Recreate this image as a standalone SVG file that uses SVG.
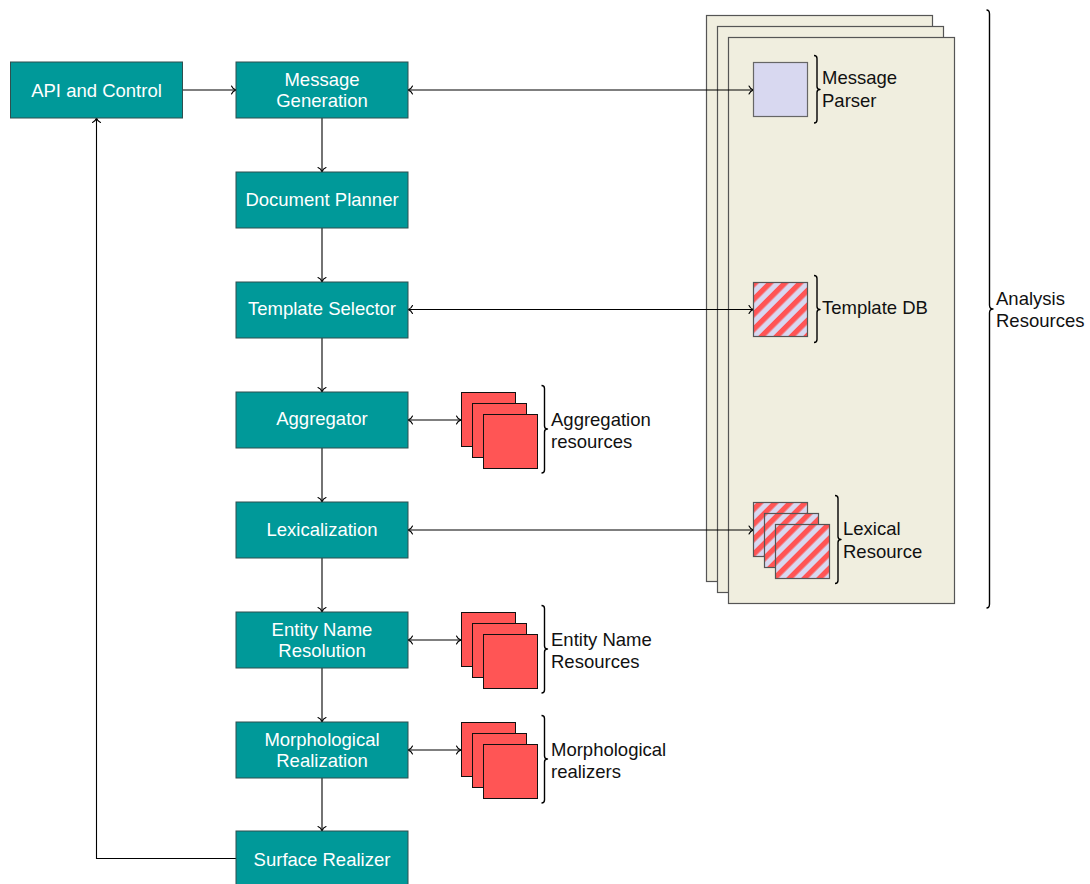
<svg xmlns="http://www.w3.org/2000/svg" width="1090" height="884" viewBox="0 0 1090 884">
  <style>
    text { font-family: "Liberation Sans", Arial, sans-serif; font-size: 18.5px; }
    .node rect { fill: #009999; stroke: #2f4f4f; stroke-width: 1; }
    .node text { fill: #ffffff; text-anchor: middle; }
    .label { fill: #111111; }
    .page { fill: #f0eedf; stroke: #555555; stroke-width: 1.2; }
    .plain { fill: #d8d8f0; stroke: #666666; stroke-width: 1.2; }
    .hatch { fill: url(#stripes); stroke: #555555; stroke-width: 1.2; }
    .res { fill: #ff5555; stroke: #111111; stroke-width: 1; }
    .brace { fill: none; stroke: #000000; stroke-width: 1.4; stroke-linejoin: round; }
    .edge { fill: none; stroke: #000000; stroke-width: 1.1; }
    .one { marker-end: url(#tip); }
    .two { marker-start: url(#tip); marker-end: url(#tip); }
  </style>
  <defs>
    <marker id="tip" viewBox="-6 -5 8 10" markerWidth="8" markerHeight="10" refX="0" refY="0" orient="auto-start-reverse" markerUnits="userSpaceOnUse">
      <path d="M-4.5,-4 C-3.5,-1.5 -1,-0.3 0,0 C-1,0.3 -3.5,1.5 -4.5,4" fill="none" stroke="#000" stroke-width="1.1" stroke-linecap="round"/>
    </marker>
    <pattern id="stripes" width="10.6" height="10.6" patternUnits="userSpaceOnUse" patternTransform="rotate(45)">
      <rect width="10.6" height="10.6" fill="#d8d8f0"/>
      <rect width="5.3" height="10.6" fill="#ff5555"/>
    </pattern>
  </defs>

  <!-- analysis resource pages -->
  <g id="analysis-pages">
    <rect class="page" x="706.5" y="15.5" width="226" height="566"/>
    <rect class="page" x="717.5" y="26.5" width="226" height="566"/>
    <rect class="page" x="728.5" y="37.5" width="226" height="566"/>
  </g>

  <!-- connectors -->
  <g id="connectors">
    <line class="edge one" x1="183" y1="90" x2="236" y2="90"/>
    <line class="edge two" x1="408" y1="90" x2="753.5" y2="90"/>
    <line class="edge two" x1="408" y1="309.5" x2="753.5" y2="309.5"/>
    <line class="edge two" x1="408" y1="420" x2="461" y2="420"/>
    <line class="edge two" x1="408" y1="530" x2="753.5" y2="530"/>
    <line class="edge two" x1="408" y1="640" x2="461" y2="640"/>
    <line class="edge two" x1="408" y1="750" x2="461" y2="750"/>
    <line class="edge one" x1="322" y1="118" x2="322" y2="172"/>
    <line class="edge one" x1="322" y1="228" x2="322" y2="282"/>
    <line class="edge one" x1="322" y1="338" x2="322" y2="392"/>
    <line class="edge one" x1="322" y1="448" x2="322" y2="502"/>
    <line class="edge one" x1="322" y1="558" x2="322" y2="612"/>
    <line class="edge one" x1="322" y1="668" x2="322" y2="722"/>
    <line class="edge one" x1="322" y1="778" x2="322" y2="831"/>
    <polyline class="edge one" points="236,858.5 96.5,858.5 96.5,118"/>
  </g>

  <!-- pipeline stages -->
  <g id="api-control" class="node">
    <rect x="10.5" y="62" width="172" height="56"/>
    <text x="96.5" y="97">API and Control</text>
  </g>
  <g id="message-generation" class="node">
    <rect x="236" y="62" width="172" height="56"/>
    <text x="322" y="86">Message</text>
    <text x="322" y="107">Generation</text>
  </g>
  <g id="document-planner" class="node">
    <rect x="236" y="172" width="172" height="56"/>
    <text x="322" y="205.5">Document Planner</text>
  </g>
  <g id="template-selector" class="node">
    <rect x="236" y="282" width="172" height="56"/>
    <text x="322" y="315">Template Selector</text>
  </g>
  <g id="aggregator" class="node">
    <rect x="236" y="392" width="172" height="56"/>
    <text x="322" y="425">Aggregator</text>
  </g>
  <g id="lexicalization" class="node">
    <rect x="236" y="502" width="172" height="56"/>
    <text x="322" y="535.5">Lexicalization</text>
  </g>
  <g id="entity-name-resolution" class="node">
    <rect x="236" y="612" width="172" height="56"/>
    <text x="322" y="636">Entity Name</text>
    <text x="322" y="657">Resolution</text>
  </g>
  <g id="morphological-realization" class="node">
    <rect x="236" y="722" width="172" height="56"/>
    <text x="322" y="746">Morphological</text>
    <text x="322" y="767">Realization</text>
  </g>
  <g id="surface-realizer" class="node">
    <rect x="236" y="831" width="172" height="56"/>
    <text x="322" y="866">Surface Realizer</text>
  </g>

  <!-- resources inside the analysis pages -->
  <g id="message-parser">
    <rect class="plain" x="753.5" y="62.5" width="54" height="54"/>
    <path class="brace" d="M814,55.5 Q817,55.5 817,58.5 L817,86.5 Q817,89.5 820,89.5 Q817,89.5 817,92.5 L817,120 Q817,123 814,123"/>
    <text class="label" x="822" y="84">Message</text>
    <text class="label" x="822" y="107">Parser</text>
  </g>
  <g id="template-db">
    <rect class="hatch" x="753.5" y="282.5" width="54" height="54"/>
    <path class="brace" d="M814,275.5 Q817,275.5 817,278.5 L817,306.5 Q817,309.5 820,309.5 Q817,309.5 817,312.5 L817,339.5 Q817,342.5 814,342.5"/>
    <text class="label" x="822" y="313.5">Template DB</text>
  </g>
  <g id="lexical-resource">
    <rect class="hatch" x="753.5" y="502.5" width="54" height="54"/>
    <rect class="hatch" x="764.5" y="513.5" width="54" height="54"/>
    <rect class="hatch" x="775.5" y="524.5" width="54" height="54"/>
    <path class="brace" d="M835,495.5 Q838,495.5 838,498.5 L838,536.5 Q838,539.5 841,539.5 Q838,539.5 838,542.5 L838,580.5 Q838,583.5 835,583.5"/>
    <text class="label" x="843" y="535">Lexical</text>
    <text class="label" x="843" y="558">Resource</text>
  </g>

  <!-- resources beside the pipeline -->
  <g id="aggregation-resources">
    <rect class="res" x="461.5" y="392.5" width="54" height="54"/>
    <rect class="res" x="472.5" y="403.5" width="54" height="54"/>
    <rect class="res" x="483.5" y="414.5" width="54" height="54"/>
    <path class="brace" d="M541.5,385.5 Q544.5,385.5 544.5,388.5 L544.5,426 Q544.5,429 547.5,429 Q544.5,429 544.5,432 L544.5,470 Q544.5,473 541.5,473"/>
    <text class="label" x="551" y="425.5">Aggregation</text>
    <text class="label" x="551" y="448">resources</text>
  </g>
  <g id="entity-name-resources">
    <rect class="res" x="461.5" y="612.5" width="54" height="54"/>
    <rect class="res" x="472.5" y="623.5" width="54" height="54"/>
    <rect class="res" x="483.5" y="634.5" width="54" height="54"/>
    <path class="brace" d="M541.5,605.5 Q544.5,605.5 544.5,608.5 L544.5,646 Q544.5,649 547.5,649 Q544.5,649 544.5,652 L544.5,690 Q544.5,693 541.5,693"/>
    <text class="label" x="551" y="645.5">Entity Name</text>
    <text class="label" x="551" y="668">Resources</text>
  </g>
  <g id="morphological-realizers">
    <rect class="res" x="461.5" y="722.5" width="54" height="54"/>
    <rect class="res" x="472.5" y="733.5" width="54" height="54"/>
    <rect class="res" x="483.5" y="744.5" width="54" height="54"/>
    <path class="brace" d="M541.5,715.5 Q544.5,715.5 544.5,718.5 L544.5,756 Q544.5,759 547.5,759 Q544.5,759 544.5,762 L544.5,800 Q544.5,803 541.5,803"/>
    <text class="label" x="551" y="755.5">Morphological</text>
    <text class="label" x="551" y="778">realizers</text>
  </g>

  <!-- overall brace for the analysis pages -->
  <g id="analysis-resources">
    <path class="brace" d="M986.5,10 Q989.5,10 989.5,14 L989.5,305 Q989.5,309 993,309 Q989.5,309 989.5,313 L989.5,604 Q989.5,608 986.5,608"/>
    <text class="label" x="996" y="304.5">Analysis</text>
    <text class="label" x="996" y="327">Resources</text>
  </g>
</svg>
